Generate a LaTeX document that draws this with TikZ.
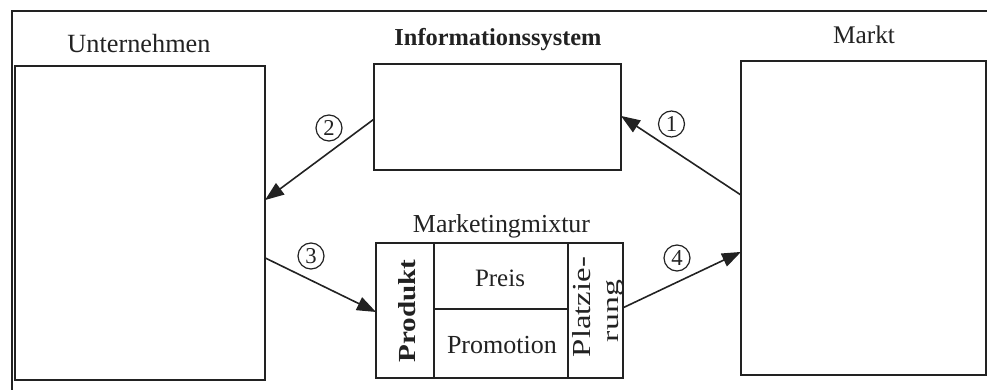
\documentclass[tikz,border=0pt]{standalone}
\usepackage{fontspec}
\setmainfont{Liberation Serif}
\usetikzlibrary{arrows.meta,calc}
\definecolor{ink}{HTML}{222222}
\newcommand{\wtext}[2]{\resizebox{#1pt}{!}{#2}}
\newcommand{\htext}[2]{\resizebox{!}{#1pt}{#2}}
\newcommand{\whtext}[3]{\resizebox{#1pt}{#2pt}{#3}}
\begin{document}
\begin{tikzpicture}[x=1pt,y=-1pt,
  box/.style={draw=ink,line width=1.4pt,inner sep=0pt,outer sep=0pt},
  lbl/.style={text=ink,inner sep=0pt},
  num/.style={draw=ink,circle,line width=1.2pt,minimum size=26pt,inner sep=0pt,text=ink},
  conn/.style={draw=ink,line width=1.6pt,-{Triangle[length=19pt,width=14pt]}}]
\useasboundingbox (0,0) rectangle (987,390);
% frame
\draw[ink,line width=2.8pt] (12,392) -- (12,11) -- (989,11);
% main boxes
\node[box,minimum width=250pt,minimum height=314pt] (U) at (140,223) {};
\node[box,minimum width=247pt,minimum height=106pt] (I) at (497.5,117) {};
\node[box,minimum width=245pt,minimum height=314pt] (M) at (863.5,218) {};
% marketing mix cells
\node[box,minimum width=58pt,minimum height=135pt] (prod) at (405,310.5) {};
\node[box,minimum width=134pt,minimum height=66pt] (preis) at (501,276) {};
\node[box,minimum width=134pt,minimum height=69pt] (promo) at (501,343.5) {};
\node[box,minimum width=55pt,minimum height=135pt] (platz) at (595.5,310.5) {};
% labels
\node[lbl,anchor=base] (tU) at (139,53) {\wtext{143}{Unternehmen}};
\node[lbl,anchor=base] (tI) at (498,46) {\wtext{207}{\bfseries Informationssystem}};
\node[lbl,anchor=base] (tM) at (864,44) {\wtext{62}{Markt}};
\node[lbl,anchor=base] (tMix) at (501.5,233) {\wtext{177}{Marketingmixtur}};
\node[lbl] (tPreis) at (500,278) {\wtext{50}{Preis}};
\node[lbl] (tPromo) at (502,345) {\wtext{110}{Promotion}};
\node[lbl,rotate=90,anchor=base] (tProd) at (415,311) {\whtext{103}{17}{\bfseries Produkt}};
\node[lbl,rotate=90,anchor=base] (tPlatz1) at (590,307) {\whtext{100}{18}{Platzie-}};
\node[lbl,rotate=90,anchor=base] (tPlatz2) at (618,311) {\whtext{62}{12}{rung}};
% connectors
\draw[conn] ($(I.north west)!0.52!(I.south west)$) -- ($(U.north east)!0.427!(U.south east)$);
\draw[conn] ($(U.north east)!0.611!(U.south east)$) -- ($(prod.north west)!0.511!(prod.south west)$);
\draw[conn] ($(M.north west)!0.427!(M.south west)$) -- ($(I.north east)!0.49!(I.south east)$);
\draw[conn] ($(platz.north east)!0.48!(platz.south east)$) -- ($(M.north west)!0.608!(M.south west)$);
% numbers
\node[num] (n2) at (329,128) {\htext{15}{2}};
\node[num] (n3) at (311,256) {\htext{15}{3}};
\node[num] (n1) at (671.5,124) {\htext{15}{1}};
\node[num] (n4) at (677,258) {\htext{15}{4}};
\end{tikzpicture}
\end{document}
